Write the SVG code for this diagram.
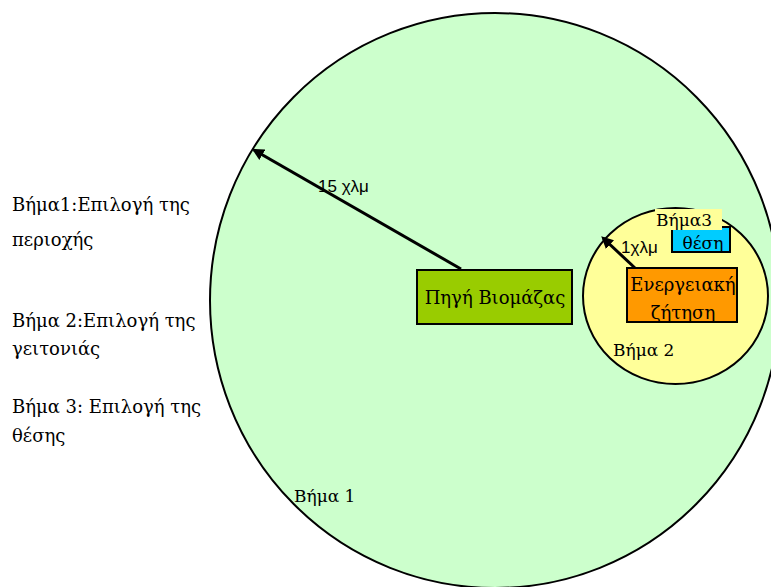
<svg xmlns="http://www.w3.org/2000/svg" width="771" height="587" viewBox="0 0 771 587">
<defs>
<marker id="ah" markerWidth="4" markerHeight="4" refX="3.2" refY="2" orient="auto" markerUnits="strokeWidth">
<path d="M0,0 L4,2 L0,4 Z" fill="#000"/>
</marker>
<style>
.serif{font-family:"DejaVu Serif","Liberation Serif",serif;fill:#000;}
.sans{font-family:"Liberation Sans","DejaVu Sans",sans-serif;fill:#000;}
.box{stroke:#000;stroke-width:2;}
.conn{stroke:#000;stroke-width:3;fill:none;marker-end:url(#ah);}
</style>
</defs>
<rect width="771" height="587" fill="#fff"/>
<g id="step1-area">
<ellipse cx="495" cy="300.5" rx="285" ry="287.5" fill="#CCFFCC" stroke="#000" stroke-width="2"/>
<text class="serif" x="294" y="502" font-size="17">Βήμα 1</text>
</g>
<g id="step2-area">
<ellipse cx="675.5" cy="296" rx="92.5" ry="88" fill="#FFFF99" stroke="#000" stroke-width="2"/>
<text class="serif" x="613" y="356" font-size="17">Βήμα 2</text>
</g>
<g id="biomass-source">
<rect class="box" x="417" y="270" width="155" height="54" fill="#99CC00"/>
<text class="serif" x="495" y="304" font-size="18" text-anchor="middle">Πηγή Βιομάζας</text>
</g>
<g id="energy-demand">
<rect class="box" x="627" y="268" width="110" height="54" fill="#FF9900"/>
<text class="serif" x="683" y="291" font-size="18" text-anchor="middle">Ενεργειακή</text>
<text class="serif" x="683" y="319" font-size="18" text-anchor="middle">ζήτηση</text>
</g>
<g id="site">
<rect class="box" x="672" y="227" width="58" height="25" fill="#00CCFF"/>
<text class="serif" x="703" y="249" font-size="17" text-anchor="middle">θέση</text>
</g>
<g id="step3-label">
<rect x="655" y="209" width="67" height="21" fill="#FFFF99"/>
<text class="serif" x="656" y="226" font-size="17">Βήμα3</text>
</g>
<g id="connectors">
<line class="conn" x1="461" y1="269" x2="254" y2="150"/>
<line class="conn" x1="635" y1="268" x2="603" y2="238"/>
<text class="sans" x="318" y="192" font-size="17">15 χλμ</text>
<text class="sans" x="621" y="253" font-size="17">1χλμ</text>
</g>
<g id="legend">
<text class="serif" x="12" y="211" font-size="18">Βήμα1:Επιλογή της</text>
<text class="serif" x="12" y="246" font-size="18">περιοχής</text>
<text class="serif" x="12" y="327" font-size="18">Βήμα 2:Επιλογή της</text>
<text class="serif" x="12" y="355" font-size="18">γειτονιάς</text>
<text class="serif" x="12" y="413" font-size="18">Βήμα 3: Επιλογή της</text>
<text class="serif" x="12" y="442" font-size="18">θέσης</text>
</g>
</svg>
